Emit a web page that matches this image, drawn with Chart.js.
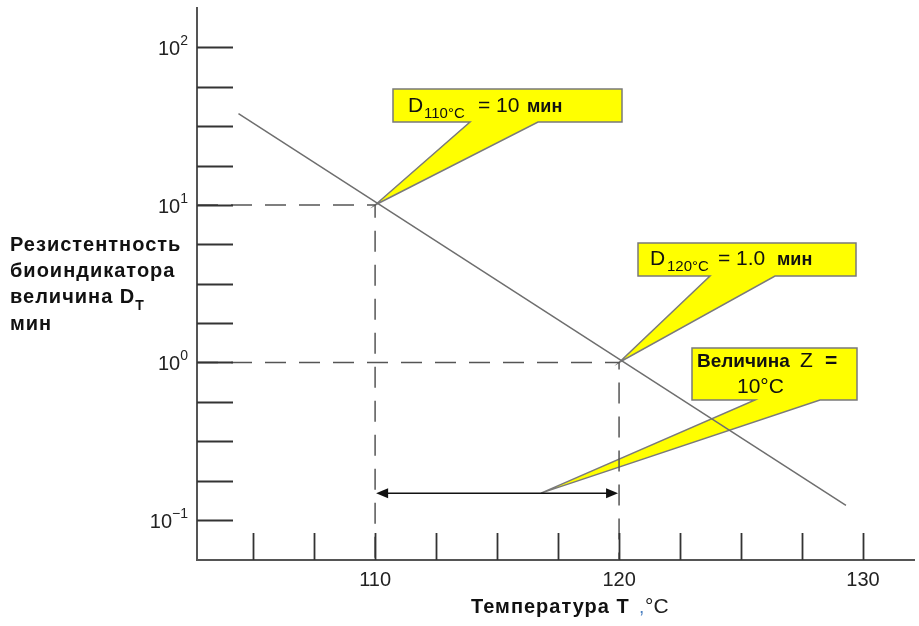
<!DOCTYPE html>
<html>
<head>
<meta charset="utf-8">
<script src="https://cdn.jsdelivr.net/npm/chart.js@4.4.1/dist/chart.umd.min.js"></script>
<style>
  html, body { margin: 0; padding: 0; background: #fff; }
  canvas { display: block; }
</style>
</head>
<body>
<canvas id="chart" width="919" height="626"></canvas>
<script>
// axis ranges and ticks
const tempRange = [102.7, 132.13];
const dRange = [0.0557, 180.7];
const tempTicks = [105, 107.5, 110, 112.5, 115, 117.5, 120, 122.5, 125, 127.5, 130];
const tempLabels = [110, 120, 130];
const dTicks = [0.1, 0.178, 0.316, 0.562, 1, 1.78, 3.16, 5.62, 10, 17.8, 31.6, 56.2, 100];
const dLabels = [[100, '2'], [10, '1'], [1, '0'], [0.1, '\u22121']];

// survivor curve and reference points
const curveT = [104.4, 129.3];
const curveD = [38, 0.124];
const refT = [110, 120];
const refD = [10, 1];
const zSpanD = 0.148;   // level of the Z double arrow
const zNoteT = 116.8;   // where the Z callout points on the arrow

const FONT = '"Liberation Sans", Arial, sans-serif';

function callout(ctx, box, base, tip) {
  const [l, t, r, b] = box;
  ctx.save();
  ctx.beginPath();
  ctx.moveTo(l, t); ctx.lineTo(r, t); ctx.lineTo(r, b);
  ctx.lineTo(base[1], b); ctx.lineTo(tip[0], tip[1]); ctx.lineTo(base[0], b);
  ctx.lineTo(l, b); ctx.closePath();
  ctx.fillStyle = '#ffff00';
  ctx.fill();
  ctx.strokeStyle = '#7a7a7a';
  ctx.lineWidth = 1.5;
  ctx.stroke();
  ctx.restore();
}

function txt(ctx, s, x, y, font, color, align) {
  ctx.font = font;
  ctx.fillStyle = color || '#111';
  ctx.textAlign = align || 'left';
  ctx.fillText(s, x, y);
  return ctx.measureText(s).width;
}

const decor = {
  id: 'decor',
  beforeDatasetsDraw(chart) {
    const ctx = chart.ctx, xs = chart.scales.x, ys = chart.scales.y;
    const px = (t, d) => [xs.getPixelForValue(t), ys.getPixelForValue(d)];
    callout(ctx, [393, 89, 622, 122], [470, 538], px(refT[0], refD[0]));
    callout(ctx, [638, 243, 856, 276], [710, 775], px(refT[1], refD[1]));
    callout(ctx, [692, 348, 857, 400], [755, 820], px(zNoteT, zSpanD));
  },
  afterDatasetsDraw(chart) {
    const ctx = chart.ctx, xs = chart.scales.x, ys = chart.scales.y;
    const a = chart.chartArea;
    ctx.save();
    ctx.textBaseline = 'alphabetic';

    // double arrow for Z
    const ay = ys.getPixelForValue(zSpanD);
    const x1 = xs.getPixelForValue(refT[0]), x2 = xs.getPixelForValue(refT[1]);
    ctx.strokeStyle = '#111'; ctx.fillStyle = '#111'; ctx.lineWidth = 1.5;
    ctx.beginPath(); ctx.moveTo(x1 + 6, ay); ctx.lineTo(x2 - 6, ay); ctx.stroke();
    ctx.beginPath(); ctx.moveTo(x1 + 1, ay); ctx.lineTo(x1 + 13, ay - 5); ctx.lineTo(x1 + 13, ay + 5); ctx.closePath(); ctx.fill();
    ctx.beginPath(); ctx.moveTo(x2 - 1, ay); ctx.lineTo(x2 - 13, ay - 5); ctx.lineTo(x2 - 13, ay + 5); ctx.closePath(); ctx.fill();

    // axes
    ctx.strokeStyle = '#555'; ctx.lineWidth = 2;
    ctx.beginPath(); ctx.moveTo(a.left, a.top); ctx.lineTo(a.left, a.bottom); ctx.lineTo(a.right, a.bottom); ctx.stroke();
    ctx.strokeStyle = '#333'; ctx.lineWidth = 1.8;
    dTicks.forEach(v => {
      const y = Math.round(ys.getPixelForValue(v)) + 0.5;
      ctx.beginPath(); ctx.moveTo(a.left, y); ctx.lineTo(a.left + 36, y); ctx.stroke();
    });
    tempTicks.forEach(v => {
      const x = Math.round(xs.getPixelForValue(v)) + 0.5;
      ctx.beginPath(); ctx.moveTo(x, a.bottom); ctx.lineTo(x, a.bottom - 27); ctx.stroke();
    });

    // tick labels
    tempLabels.forEach(v => {
      txt(ctx, String(v), xs.getPixelForValue(v), a.bottom + 26, '20px ' + FONT, '#222', 'center');
    });
    dLabels.forEach(([v, e]) => {
      const y = ys.getPixelForValue(v);
      const w = txt(ctx, e, 188, y - 2, '14px ' + FONT, '#222', 'right');
      txt(ctx, '10', 188 - w, y + 8, '20px ' + FONT, '#222', 'right');
    });

    // y title
    ctx.letterSpacing = '1px';
    const bf = 'bold 20px ' + FONT;
    txt(ctx, 'Резистентность', 10, 251, bf);
    txt(ctx, 'биоиндикатора', 10, 277, bf);
    const w3 = txt(ctx, 'величина D', 10, 303, bf);
    txt(ctx, 'T', 10 + w3, 310, 'bold 14px ' + FONT);
    txt(ctx, 'мин', 10, 330, bf);

    // x title
    ctx.letterSpacing = '1px';
    const wt = txt(ctx, 'Температура T', 471, 613, 'bold 20px ' + FONT);
    ctx.letterSpacing = '0px';
    txt(ctx, ',', 639, 613, '19px ' + FONT, '#4a7fc0');
    txt(ctx, '°C', 645, 613, '21px ' + FONT, '#222');

    // callout texts
    txt(ctx, 'D', 408, 112, '21px ' + FONT);
    txt(ctx, '110°C', 424, 118, '15px ' + FONT);
    txt(ctx, '= 10', 478, 112, '21px ' + FONT);
    txt(ctx, 'мин', 527, 112, 'bold 18px ' + FONT);

    txt(ctx, 'D', 650, 265, '21px ' + FONT);
    txt(ctx, '120°C', 667, 271, '15px ' + FONT);
    txt(ctx, '= 1.0', 718, 265, '21px ' + FONT);
    txt(ctx, 'мин', 777, 265, 'bold 18px ' + FONT);

    txt(ctx, 'Величина', 697, 367, 'bold 19px ' + FONT);
    txt(ctx, 'Z', 800, 367, '21px ' + FONT);
    txt(ctx, '=', 825, 367, 'bold 21px ' + FONT);
    txt(ctx, '10°C', 737, 393, '21px ' + FONT);
    ctx.restore();
  }
};

const dashed = { borderColor: '#555', borderWidth: 1.5, borderDash: [21, 13], pointRadius: 0, fill: false, tension: 0 };

new Chart(document.getElementById('chart'), {
  type: 'line',
  data: {
    datasets: [
      {
        label: 'D',
        data: curveT.map((t, i) => ({ x: t, y: curveD[i] })),
        borderColor: '#6e6e6e', borderWidth: 1.5, pointRadius: 0, fill: false
      },
      Object.assign({
        label: 'D110',
        data: [{ x: tempRange[0], y: refD[0] }, { x: refT[0], y: refD[0] }, { x: refT[0], y: dRange[0] }]
      }, dashed),
      Object.assign({
        label: 'D120',
        data: [{ x: tempRange[0], y: refD[1] }, { x: refT[1], y: refD[1] }, { x: refT[1], y: dRange[0] }]
      }, dashed)
    ]
  },
  options: {
    responsive: false,
    animation: false,
    layout: { padding: { left: 197, right: 4, top: 7, bottom: 66 } },
    plugins: { legend: { display: false }, tooltip: { enabled: false } },
    scales: {
      x: { type: 'linear', min: tempRange[0], max: tempRange[1], display: false },
      y: { type: 'logarithmic', min: dRange[0], max: dRange[1], display: false }
    }
  },
  plugins: [decor]
});
</script>
</body>
</html>
